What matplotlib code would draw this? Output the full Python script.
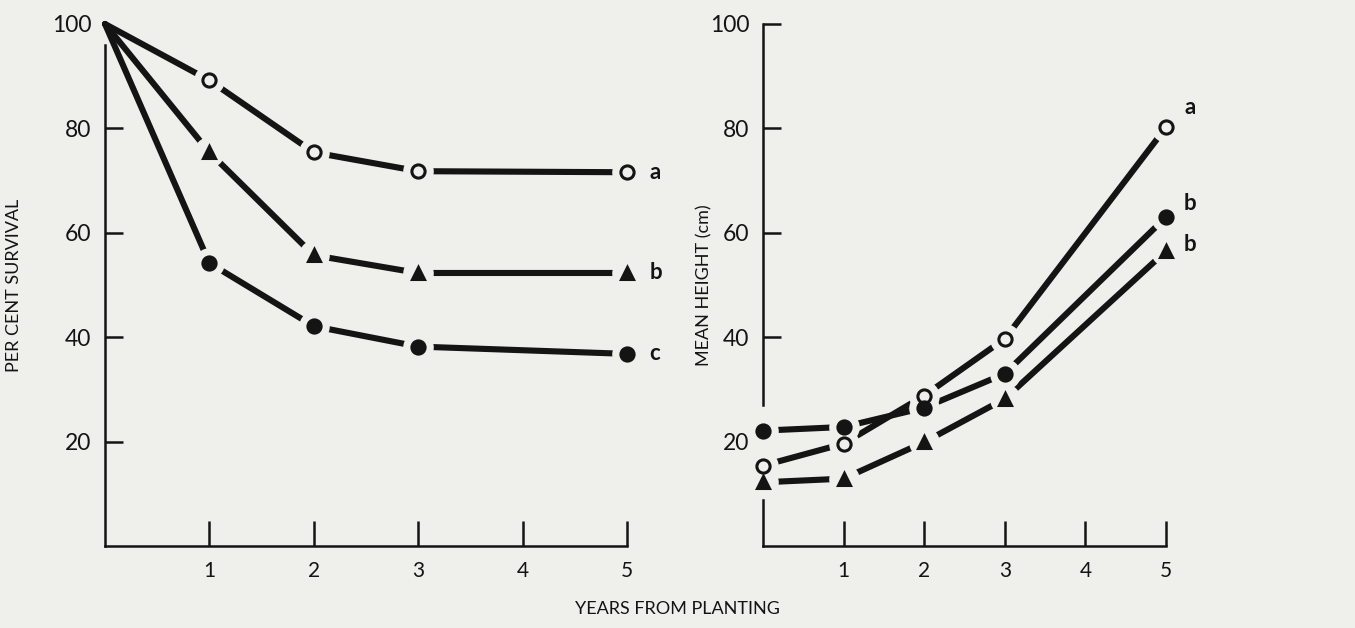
import matplotlib
matplotlib.use("Agg")
import matplotlib.pyplot as plt

plt.rcParams['font.family'] = ['Lato', 'DejaVu Sans']

# Data
years = [0, 1, 2, 3, 5]
years_surv = [0, 1, 2, 3, 5]
surv_a = [100, 89.2, 75.4, 71.8, 71.6]
surv_b = [100, 75.4, 55.7, 52.3, 52.3]
surv_c = [100, 54.2, 42.1, 38.2, 36.8]
surv_labels = ['a', 'b', 'c']

height_open = [15.4, 19.6, 28.8, 39.7, 80.2]
height_filled = [22.1, 22.8, 26.5, 33.0, 63.0]
height_tri = [12.2, 12.9, 19.9, 28.2, 56.5]
height_labels = ['a', 'b', 'b']

x_ticks = [1, 2, 3, 4, 5]
y_ticks = [20, 40, 60, 80, 100]

BG = '#efefec'
INK = '#141414'
LW = 4.4

fig = plt.figure(figsize=(13.55, 6.28), dpi=100, facecolor=BG)
axL = fig.add_axes([0.0775, 0.1306, 0.3852, 0.8312])
axR = fig.add_axes([0.5631, 0.1306, 0.2974, 0.8312])


def draw_series(ax, xs, ys, marker, filled, ms, skip_first_marker=False):
    ax.plot(xs, ys, color=INK, lw=LW, solid_capstyle='round', zorder=3, clip_on=False)
    mx = xs[1:] if skip_first_marker else xs
    my = ys[1:] if skip_first_marker else ys
    ax.plot(mx, my, ls='none', marker='o', ms=22, mfc=BG, mec=BG, mew=0, zorder=4, clip_on=False)
    ax.plot(mx, my, ls='none', marker=marker, ms=ms,
            mfc=INK if filled else BG, mec=INK, mew=2.2, zorder=5, clip_on=False)


for ax in (axL, axR):
    ax.set_facecolor('none')
    ax.set_xlim(0, 5)
    ax.set_ylim(0, 100)
    for s in ('top', 'right'):
        ax.spines[s].set_visible(False)
    for s in ('left', 'bottom'):
        ax.spines[s].set_linewidth(1.8)
        ax.spines[s].set_color(INK)
    ax.set_xticks(x_ticks)
    ax.set_xticklabels([str(t) for t in x_ticks], fontsize=15, color=INK)
    ax.set_yticks(y_ticks)
    ax.set_yticklabels([str(t) for t in y_ticks], fontsize=16.5, color=INK)
    ax.tick_params(axis='x', direction='in', length=18, width=1.8, pad=11, color=INK)
    ax.tick_params(axis='y', direction='in', length=13, width=1.8, pad=10, color=INK)

# Left panel
axL.spines['left'].set_bounds(0, 96)
axL.yaxis.get_major_ticks()[-1].tick1line.set_visible(False)
draw_series(axL, years_surv, surv_a, 'o', False, 9.5, skip_first_marker=True)
draw_series(axL, years_surv, surv_b, '^', True, 9, skip_first_marker=True)
draw_series(axL, years_surv, surv_c, 'o', True, 9.5, skip_first_marker=True)
for lab, ys in zip(surv_labels, [surv_a, surv_b, surv_c]):
    axL.annotate(lab, (years_surv[-1], ys[-1]), xytext=(16, 0), textcoords='offset points',
                 fontsize=16, fontweight='bold', color=INK, va='center', ha='left')
axL.set_ylabel('PER CENT SURVIVAL', fontsize=13, color=INK)
axL.yaxis.set_label_coords(-0.159, 0.5)

# Right panel: y axis line is broken where the year-0 points sit
axR.spines['left'].set_bounds(27, 100)
axR.axvline(0, 0, 0.088, color=INK, lw=1.8, zorder=2.5, clip_on=False)
axR.yaxis.get_major_ticks()[0].tick1line.set_visible(False)
draw_series(axR, years, height_open, 'o', False, 9.5)
draw_series(axR, years, height_filled, 'o', True, 9.5)
draw_series(axR, years, height_tri, '^', True, 9)
for lab, ys, dy in zip(height_labels, [height_open, height_filled, height_tri], [14, 10, 5]):
    axR.annotate(lab, (years[-1], ys[-1]), xytext=(13, dy), textcoords='offset points',
                 fontsize=16, fontweight='bold', color=INK, va='center', ha='left')
axR.set_ylabel('MEAN HEIGHT (cm)', fontsize=13, color=INK)
axR.yaxis.set_label_coords(-0.1266, 0.5)

fig.text(0.4996, 0.017, 'YEARS FROM PLANTING', fontsize=13, color=INK, ha='center', va='bottom')

fig.savefig('out.png', dpi=100, facecolor=BG)
